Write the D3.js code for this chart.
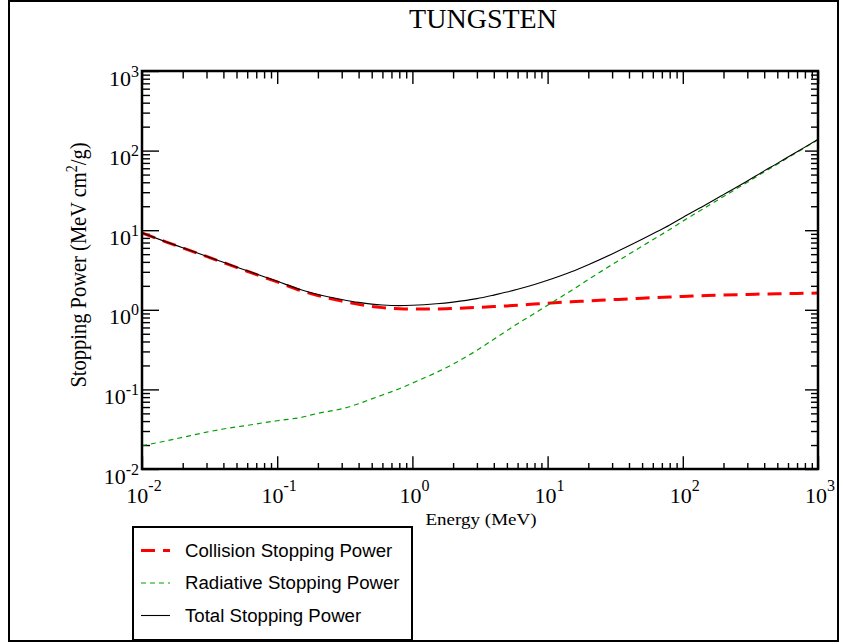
<!DOCTYPE html>
<html>
<head>
<meta charset="utf-8">
<script src="https://cdn.jsdelivr.net/npm/d3@7"></script>
<style>
  html, body { margin: 0; padding: 0; background: #fff; }
  svg { display: block; }
</style>
</head>
<body>
<svg id="chart" width="843" height="644"></svg>
<script>
// ---- Data ----
const energy = [0.01, 0.015, 0.02, 0.03, 0.04, 0.05, 0.06, 0.08, 0.1, 0.15, 0.2, 0.3, 0.4, 0.5, 0.6, 0.8,
  1, 1.5, 2, 3, 4, 5, 6, 8, 10, 15, 20, 30, 40, 50, 60, 80, 100, 150, 200, 300, 400, 500, 600, 800, 1000];
const collision = [9.25, 7.14, 6.0, 4.68, 3.92, 3.42, 3.05, 2.56, 2.24, 1.74, 1.51, 1.29, 1.17, 1.10, 1.065, 1.03,
  1.02, 1.025, 1.04, 1.07, 1.10, 1.12, 1.14, 1.18, 1.21, 1.26, 1.29, 1.34, 1.37, 1.40, 1.42, 1.45, 1.47, 1.51, 1.53, 1.56, 1.58, 1.59, 1.60, 1.61, 1.62];
const radiative = [0.0196, 0.0225, 0.025, 0.029, 0.0318, 0.0338, 0.0353, 0.0382, 0.0404, 0.0445, 0.050, 0.057, 0.066, 0.076, 0.085, 0.102,
  0.120, 0.163, 0.208, 0.31, 0.427, 0.547, 0.67, 0.90, 1.14, 1.75, 2.40, 3.70, 5.00, 6.30, 7.60, 10.2, 13.0, 19.7, 26.5, 40.0, 54.0, 67.5, 81.5, 109, 137];
const total = [9.27, 7.16, 6.02, 4.71, 3.95, 3.45, 3.09, 2.60, 2.28, 1.79, 1.56, 1.35, 1.24, 1.18, 1.15, 1.13,
  1.14, 1.19, 1.25, 1.38, 1.53, 1.67, 1.81, 2.08, 2.35, 3.01, 3.69, 5.04, 6.37, 7.70, 9.02, 11.65, 14.47, 21.2, 28.0, 41.6, 55.6, 69.1, 83.1, 110.6, 138.6];
const seriesNames = ["Collision Stopping Power", "Radiative Stopping Power", "Total Stopping Power"];
const xTickExps = [-2, -1, 0, 1, 2, 3];
const yTickExps = [-2, -1, 0, 1, 2, 3];
const titleText = "TUNGSTEN";
const xLabel = "Energy (MeV)";

// ---- Layout ----
const svg = d3.select("#chart");
const L = 142, R = 818, T = 71, B = 469;
const x = d3.scaleLog().domain([1e-2, 1e3]).range([L, R]);
const y = d3.scaleLog().domain([1e-2, 1e3]).range([B, T]);
const serif = "'Liberation Serif', 'Times New Roman', serif";
const sans = "'Liberation Sans', Arial, Helvetica, sans-serif";

// outer frame
svg.append("rect").attr("x", 9).attr("y", 1).attr("width", 829).attr("height", 640)
  .attr("fill", "none").attr("stroke", "#000").attr("stroke-width", 2);

// clip
svg.append("clipPath").attr("id", "clip").append("rect")
  .attr("x", L).attr("y", T).attr("width", R - L).attr("height", B - T);

// ticks (inward, on all four sides) using d3 axes
const minorVals = [];
for (let e = -2; e < 3; e++) for (let m = 2; m <= 9; m++) minorVals.push(m * Math.pow(10, e));
const majorVals = xTickExps.map(e => Math.pow(10, e));

function tickAxis(axisFn, scale, vals, len, tx, ty) {
  const g = svg.append("g").attr("transform", `translate(${tx},${ty})`)
    .call(axisFn(scale).tickValues(vals).tickSize(-len).tickFormat(""));
  g.select(".domain").remove();
  g.selectAll(".tick line").attr("stroke", "#000").attr("stroke-width", 1.4);
  return g;
}
tickAxis(d3.axisBottom, x, majorVals, 12.7, 0, B);
tickAxis(d3.axisBottom, x, minorVals, 6, 0, B);
tickAxis(d3.axisTop, x, majorVals, 13, 0, T);
tickAxis(d3.axisTop, x, minorVals, 7.5, 0, T);
tickAxis(d3.axisLeft, y, yTickExps.map(e => Math.pow(10, e)), 17, L, 0);
tickAxis(d3.axisLeft, y, minorVals, 8, L, 0);
tickAxis(d3.axisRight, y, yTickExps.map(e => Math.pow(10, e)), 13, R, 0);
tickAxis(d3.axisRight, y, minorVals, 7, R, 0);

// curves
const line = d3.line().x(d => x(d[0])).y(d => y(d[1])).curve(d3.curveMonotoneX);
const plot = svg.append("g").attr("clip-path", "url(#clip)");
const styles = [
  { color: "#ff0000", width: 3, dash: "14,8" },
  { color: "#00a000", width: 1.2, dash: "5,4" },
  { color: "#000000", width: 1.1, dash: null }
];
[collision, radiative, total].forEach((vals, i) => {
  const p = plot.append("path").datum(energy.map((e, k) => [e, vals[k]]))
    .attr("d", line).attr("fill", "none")
    .attr("stroke", styles[i].color).attr("stroke-width", styles[i].width);
  if (styles[i].dash) p.attr("stroke-dasharray", styles[i].dash);
});

// frame of plot
svg.append("rect").attr("x", L).attr("y", T).attr("width", R - L).attr("height", B - T)
  .attr("fill", "none").attr("stroke", "#000").attr("stroke-width", 2.5);

// tick labels
xTickExps.forEach(e => {
  const t = svg.append("text").attr("x", x(Math.pow(10, e)) + 2).attr("y", 503)
    .attr("text-anchor", "middle").attr("font-family", serif).attr("font-size", 22);
  t.append("tspan").text("10");
  t.append("tspan").attr("dy", -12).attr("font-size", 16).text(String(e));
});
yTickExps.forEach(e => {
  const t = svg.append("text").attr("x", 139).attr("y", y(Math.pow(10, e)) + 14.5)
    .attr("text-anchor", "end").attr("font-family", serif).attr("font-size", 22);
  t.append("tspan").text("10");
  t.append("tspan").attr("dy", -9).attr("font-size", 16).text(String(e));
});

// title
svg.append("text").attr("x", 483).attr("y", 28).attr("text-anchor", "middle")
  .attr("font-family", serif).attr("font-size", 28).text(titleText);

// x label
svg.append("text").attr("transform", "translate(481,525) scale(1.12,1)")
  .attr("text-anchor", "middle").attr("font-family", serif).attr("font-size", 17).text(xLabel);

// y label
const yl = svg.append("text").attr("transform", "translate(86,265) rotate(-90) scale(1,1.15)")
  .attr("text-anchor", "middle").attr("font-family", serif).attr("font-size", 20.5);
yl.append("tspan").text("Stopping Power (MeV cm");
yl.append("tspan").attr("dy", -8).attr("font-size", 14).text("2");
yl.append("tspan").attr("dy", 8).text("/g)");

// legend
svg.append("rect").attr("x", 133).attr("y", 527).attr("width", 279).attr("height", 113)
  .attr("fill", "#fff").attr("stroke", "#000").attr("stroke-width", 2);
const legY = [556.5, 589, 621.5];
seriesNames.forEach((name, i) => {
  const ly = legY[i] - 6;
  const l = svg.append("line").attr("x1", 141).attr("x2", 170).attr("y1", ly).attr("y2", ly)
    .attr("stroke", styles[i].color).attr("stroke-width", styles[i].width);
  if (styles[i].dash) l.attr("stroke-dasharray", styles[i].dash);
  svg.append("text").attr("transform", `translate(185,${legY[i]}) scale(1.06,1)`)
    .attr("font-family", sans).attr("font-size", 17.6).text(name);
});
</script>
</body>
</html>
